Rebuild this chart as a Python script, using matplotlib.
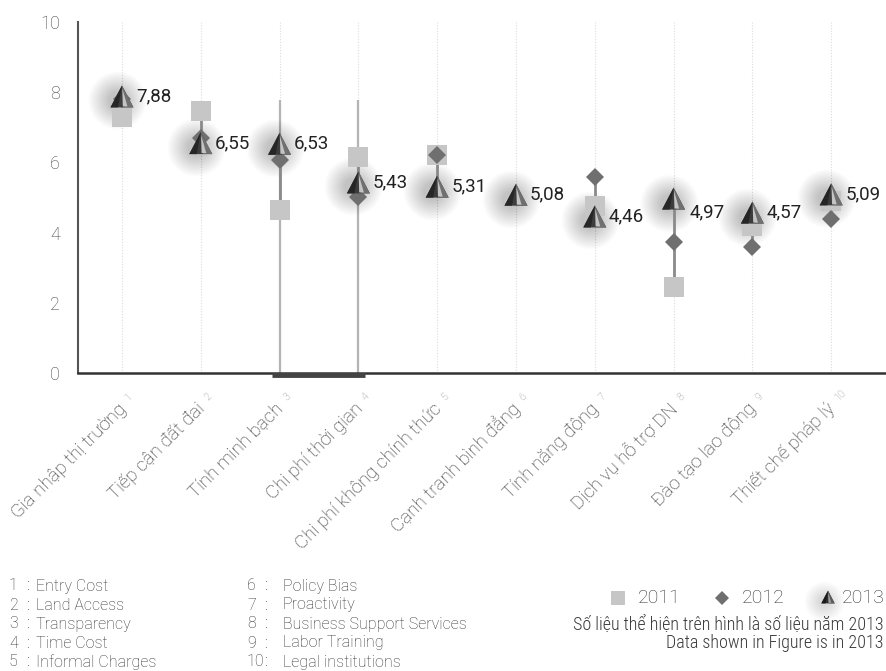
import numpy as np
import matplotlib
matplotlib.use("Agg")
import matplotlib.pyplot as plt
from matplotlib.lines import Line2D
from matplotlib.collections import PolyCollection
from matplotlib.transforms import ScaledTranslation, IdentityTransform

# ---- data -------------------------------------------------------------
categories = ["Gia nhập thị trường", "Tiếp cận đất đai", "Tính minh bạch",
              "Chi phí thời gian", "Chi phí không chính thức",
              "Cạnh tranh bình đẳng", "Tính năng động", "Dịch vụ hỗ trợ DN",
              "Đào tạo lao động", "Thiết chế pháp lý"]
english_names = ["Entry Cost", "Land Access", "Transparency", "Time Cost",
                 "Informal Charges", "Policy Bias", "Proactivity",
                 "Business Support Services", "Labor Training",
                 "Legal institutions"]
values_2011 = [7.30, 7.46, 4.64, 6.15, 6.21, np.nan, 4.76, 2.45, 4.20, 4.90]
values_2012 = [7.80, 6.70, 6.07, 5.01, 6.20, np.nan, 5.58, 3.73, 3.59, 4.38]
values_2013 = [7.88, 6.55, 6.53, 5.43, 5.31, 5.08, 4.46, 4.97, 4.57, 5.09]
years = ["2011", "2012", "2013"]
y_ticks = [0, 2, 4, 6, 8, 10]

# ---- style ------------------------------------------------------------
LIGHT = ["Roboto", "DejaVu Sans"]
NARROW = ["Roboto Condensed", "Liberation Sans Narrow", "DejaVu Sans"]
SQ_COLOR = "#c6c6c6"
DIA_COLOR = "#6f6f6f"

W, H = 886, 671
fig = plt.figure(figsize=(W / 100, H / 100), dpi=100)
ax = fig.add_axes([78 / W, 1 - 373 / H, 808 / W, 351 / H])
ax.set_xlim(-0.558, 9.695)
ax.set_ylim(0, 10)

x = np.arange(len(categories))
v11 = np.array(values_2011)
v12 = np.array(values_2012)
v13 = np.array(values_2013)


def px(dx, dy):
    """Offset transform in pixels (at 100 dpi)."""
    return ScaledTranslation(dx / 100, dy / 100, fig.dpi_scale_trans)


# shaded pyramid glyph (pixel units, centred on the value)
def pyramid(axes, xs, ys, scale=1.0, transform=None, zorder=5):
    s = scale
    facets = [
        ([(0, 11), (-11.5, -11), (11.5, -11)], "#3c3c3c"),
        ([(0, 11), (-11.5, -11), (-4, -11)], "#262626"),
        ([(0, 11), (2.5, -11), (11.5, -11)], "#707070"),
        ([(0.3, 8), (0.8, -10), (5.5, -10)], "#c4c4c4"),
    ]
    offsets = np.column_stack([xs, ys])
    for k, (verts, col) in enumerate(facets):
        v = [(a * s, b * s) for a, b in verts]
        pc = PolyCollection([v], offsets=offsets,
                            offset_transform=transform or axes.transData,
                            facecolors=col, edgecolors="none",
                            zorder=zorder + k * 0.01)
        pc.set_transform(IdentityTransform())
        axes.add_collection(pc)
        pc.set_clip_on(False)


# dotted category guides
ax.vlines(x, 0, 10, colors="#dcdcdc", linewidth=0.8,
          linestyles=(0, (1, 1.5)), zorder=0.5)

# guide frame around the two middle categories
ax.vlines([2, 3], 0, 7.78, colors="#b4b4b4", linewidth=1.6, zorder=0.8)
ax.plot([1.91, 3.09], [0, 0], color="#444444", linewidth=3.5,
        solid_capstyle="butt", transform=ax.transData + px(0, -1.5),
        zorder=6, clip_on=False)

# high-low range lines across the three years
stack = np.vstack([v11, v12, v13])
lo = np.nanmin(stack, axis=0)
hi = np.nanmax(stack, axis=0)
ax.vlines(x, lo, hi, colors="#8a8a8a", linewidth=2.0, zorder=2)

# soft halo behind 2013 markers
for d in np.linspace(18, 58, 20):
    ax.scatter(x, v13, s=(d * 0.72) ** 2, marker="o", color="black",
               alpha=0.010, linewidths=0, zorder=1.8,
               transform=ax.transData + px(-5, -4))

ax.plot(x, v11, linestyle="none", marker="s", markersize=14.4,
        color=SQ_COLOR, markeredgewidth=0, zorder=3)
ax.plot(x, v12, linestyle="none", marker="D", markersize=9.2,
        color=DIA_COLOR, markeredgewidth=0, zorder=4)
pyramid(ax, x, v13)

# value labels (2013)
label_offsets = {7: (16, -14)}
for i, v in enumerate(v13):
    dx, dy = label_offsets.get(i, (14, 0))
    ax.text(i, v, f"{v:.2f}".replace(".", ","), fontsize=13.5,
            family=LIGHT, color="#222222", ha="left", va="center",
            transform=ax.transData + px(dx, dy), zorder=7)

# axes styling
for side in ("top", "right"):
    ax.spines[side].set_visible(False)
ax.spines["left"].set_color("#555555")
ax.spines["left"].set_linewidth(1.5)
ax.spines["bottom"].set_color("#333333")
ax.spines["bottom"].set_linewidth(1.8)
ax.set_yticks(y_ticks)
ax.set_yticklabels([str(t) for t in y_ticks], family=LIGHT,
                   fontweight="light", fontsize=13, color="#444444")
ax.tick_params(axis="y", length=0, pad=13)
ax.set_xticks([])

# rotated category labels with small index marks
for i, name in enumerate(categories):
    ax.annotate(name, xy=(i, 0), xycoords=("data", "axes fraction"),
                xytext=(3.6, -26.5), textcoords="offset points",
                rotation=45, ha="right", va="baseline",
                rotation_mode="anchor", fontsize=13.5, family=LIGHT,
                fontweight="light", color="#333333", annotation_clip=False)
    ax.annotate(str(i + 1), xy=(i, 0), xycoords=("data", "axes fraction"),
                xytext=(5.4, -20.5), textcoords="offset points",
                rotation=45, ha="left", va="baseline",
                rotation_mode="anchor", fontsize=7.5, family=LIGHT,
                fontweight="light", color="#888888", annotation_clip=False)


def fx(p):
    return p / W


def fy(p):
    return 1 - p / H


# index key (two columns)
rows_y = [586, 605, 624, 643, 662]
col_x = [(9, 26, 36), (247, 264, 283)]
for i, name in enumerate(english_names):
    col, row = divmod(i, 5)
    nx, cx, tx = col_x[col]
    y = fy(rows_y[row])
    kw = dict(fontsize=11.5, family=LIGHT, fontweight="light",
              color="#333333", va="center")
    fig.text(fx(nx), y, str(i + 1), ha="left", **kw)
    fig.text(fx(cx), y, ":", ha="left", **kw)
    fig.text(fx(tx), y, name, ha="left", **kw)

# year legend
leg_y = fy(598)
for d in np.linspace(12, 40, 12):
    fig.add_artist(Line2D([fx(824)], [fy(601)], transform=fig.transFigure,
                          marker="o", markersize=d * 0.72, color="black",
                          alpha=0.012, markeredgewidth=0, linestyle="none"))
fig.add_artist(Line2D([fx(618)], [leg_y], transform=fig.transFigure,
                      marker="s", markersize=10, color=SQ_COLOR,
                      markeredgewidth=0, linestyle="none"))
fig.add_artist(Line2D([fx(722)], [leg_y], transform=fig.transFigure,
                      marker="D", markersize=7.6, color=DIA_COLOR,
                      markeredgewidth=0, linestyle="none"))
pyramid(ax, [fx(828)], [fy(597)], scale=0.58, transform=fig.transFigure,
        zorder=8)
for xt, yr in zip([638, 742, 842], years):
    fig.text(fx(xt), leg_y, yr, fontsize=14, family=LIGHT,
             fontweight="light", color="#333333", ha="left", va="center")

# footnote
for yy, line in [(625, "Số liệu thể hiện trên hình là số liệu năm 2013"),
                 (643, "Data shown in Figure is in 2013")]:
    fig.text(fx(884), fy(yy), line, fontsize=13, family=NARROW,
             fontstretch="condensed", fontweight="light", color="#3a3a3a",
             ha="right", va="center")

fig.savefig("out.png", dpi=100)
